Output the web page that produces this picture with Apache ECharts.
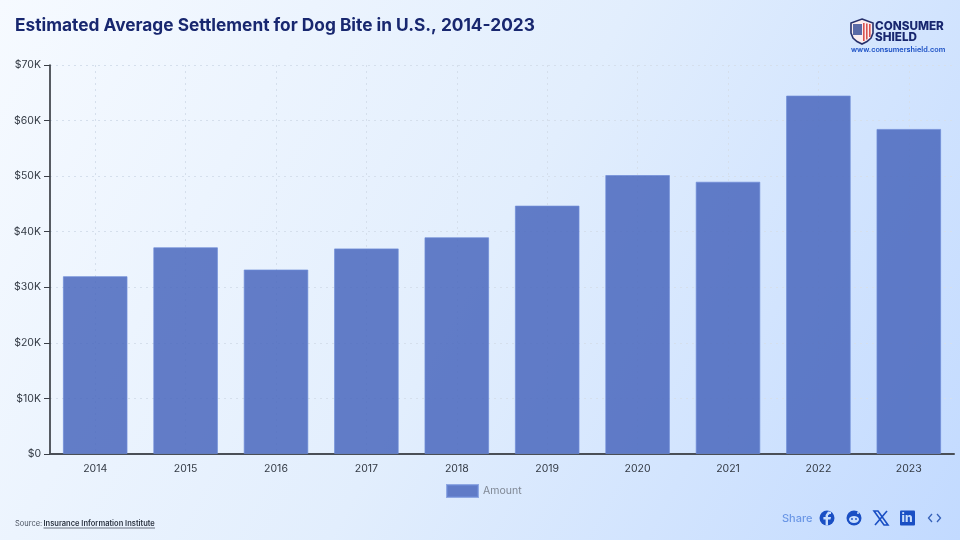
<!DOCTYPE html>
<html><head><meta charset="utf-8">
<style>html,body{margin:0;padding:0;width:960px;height:540px;overflow:hidden}#c{width:960px;height:540px}</style>
<script src="https://cdn.jsdelivr.net/npm/echarts@6/dist/echarts.min.js"></script>
</head><body><div id="c"></div>
<script>
const categories = ['2014','2015','2016','2017','2018','2019','2020','2021','2022','2023'];
const amounts = [32000,37200,33200,37000,39000,44700,50200,49000,64500,58500];
const yTicks = {0:'$0',10000:'$10K',20000:'$20K',30000:'$30K',40000:'$40K',50000:'$50K',60000:'$60K',70000:'$70K'};
const titleText = 'Estimated Average Settlement for Dog Bite in U.S., 2014-2023';
const seriesName = 'Amount';
const font = 'Inter, "Noto Sans", sans-serif';
const navy = '#18276f', blue = '#1a4fc4';

const chart = echarts.init(document.getElementById('c'), null, {renderer:'canvas'});
const t = (x,y,text,size,fill,weight,align) => ({type:'text',x,y,silent:true,style:{text,font:(weight||400)+' '+size+'px '+font,fill,align:align||'left',verticalAlign:'middle'}});
const poly = (points,fill) => ({type:'polygon',silent:true,shape:{points},style:{fill}});
const pline = (points,stroke,w) => ({type:'polyline',silent:true,shape:{points},style:{fill:'none',stroke,lineWidth:w}});
chart.setOption({
  animation:false,
  backgroundColor:{type:'linear',x:0,y:0,x2:1,y2:1,colorStops:[{offset:0,color:'#f6faff'},{offset:0.5,color:'#e2eefd'},{offset:1,color:'#c2daff'}]},
  title:{text:titleText,left:15,top:17,padding:0,textStyle:{fontFamily:font,fontSize:17.3,fontWeight:700,color:navy}},
  grid:{left:50,right:6,top:65,bottom:86,containLabel:false},
  legend:{data:[seriesName],top:484,left:446,padding:0,itemWidth:31,itemHeight:12,itemGap:5,selectedMode:false,icon:'rect',
    textStyle:{fontFamily:font,fontSize:10.5,color:'#7f8794'}},
  xAxis:{type:'category',data:categories,
    axisLine:{lineStyle:{color:'#4a4f57',width:2}},
    axisTick:{alignWithLabel:true,length:5,lineStyle:{color:'#4a4f57'}},
    axisLabel:{fontFamily:font,fontSize:10.5,color:'#333a44',margin:9},
    splitLine:{show:true,alignWithLabel:true,lineStyle:{type:[2,4],color:'#d5dfec',width:1}}},
  yAxis:{type:'value',min:0,max:70000,interval:10000,
    axisLine:{show:true,lineStyle:{color:'#23272e',width:1.5}},
    axisTick:{show:true,length:6,lineStyle:{color:'#3a3f47'}},
    axisLabel:{fontFamily:font,fontSize:10.5,color:'#333a44',margin:9,formatter:v=>yTicks[v]},
    splitLine:{show:true,lineStyle:{type:[2,4],color:'#d5dfec',width:1}}},
  series:[{type:'bar',name:seriesName,data:amounts,barWidth:'71.5%',
    itemStyle:{color:'rgba(72,101,188,0.84)',borderColor:'rgba(110,140,215,0.7)',borderWidth:1}}],
  graphic:[
    // logo shield
    {type:'polygon',silent:true,shape:{points:[[862,19],[873,23],[873,33],[871,38],[867,41.5],[862,44],[857,41.5],[853,38],[851,33],[851,23]]},style:{fill:'#fbeef0',stroke:'#27306b',lineWidth:1.6}},
    {type:'rect',silent:true,shape:{x:863,y:23,width:1.6,height:18},style:{fill:'#d9534f'}},
    {type:'rect',silent:true,shape:{x:866,y:23.5,width:1.6,height:16},style:{fill:'#d9534f'}},
    {type:'rect',silent:true,shape:{x:869,y:24,width:1.6,height:13},style:{fill:'#d9534f'}},
    {type:'rect',silent:true,shape:{x:853,y:24,width:9,height:11},style:{fill:'#5a6aa6'}},
    t(875,26.5,'CONSUMER',11.7,navy,800),
    t(875,37.5,'SHIELD',11.7,navy,800),
    t(851,50,'www.consumershield.com',7.3,blue,600),
    // source
    t(15,524,'Source: ',7.5,'#4a5260',400),
    t(43.5,524,'Insurance Information Institute',7.5,'#2c3442',600),
    {type:'line',silent:true,shape:{x1:43.5,y1:528,x2:155,y2:528},style:{stroke:'#4a5260',lineWidth:0.8}},
    // share row
    t(782,519,'Share',11,'#6b97e6',500),
    {type:'circle',silent:true,shape:{cx:827,cy:518,r:7.5},style:{fill:blue}},
    poly([[828,525.6],[828,519.5],[830.5,519.5],[831,517],[828,517],[828,515.5],[829.6,514],[831,514],[831,511.8],[828,511.6],[825.6,515],[825.6,517],[823.4,517],[823.4,519.5],[825.6,519.5],[825.6,525.6]],'#c9defc'),
    {type:'circle',silent:true,shape:{cx:854,cy:518,r:7.5},style:{fill:blue}},
    {type:'ellipse',silent:true,shape:{cx:854,cy:519.5,rx:5,ry:3.4},style:{fill:'#c9defc'}},
    {type:'circle',silent:true,shape:{cx:858,cy:513,r:1},style:{fill:'#c9defc'}},
    {type:'circle',silent:true,shape:{cx:852,cy:519,r:0.9},style:{fill:blue}},
    {type:'circle',silent:true,shape:{cx:856,cy:519,r:0.9},style:{fill:blue}},
    {type:'polygon',silent:true,shape:{points:[[874,511],[878,511],[888,525],[884,525]]},style:{fill:'none',stroke:blue,lineWidth:1.6}},
    pline([[887,511],[875,525]],blue,1.6),
    {type:'rect',silent:true,shape:{x:900,y:510.5,width:15,height:15,r:1},style:{fill:blue}},
    t(901.5,518.5,'in',12,'#c9defc',800),
    pline([[932,514],[928.5,518],[932,522]],'#3560b8',1.3),
    pline([[937,514],[940.5,518],[937,522]],'#3560b8',1.3)
  ]
});
</script></body></html>
